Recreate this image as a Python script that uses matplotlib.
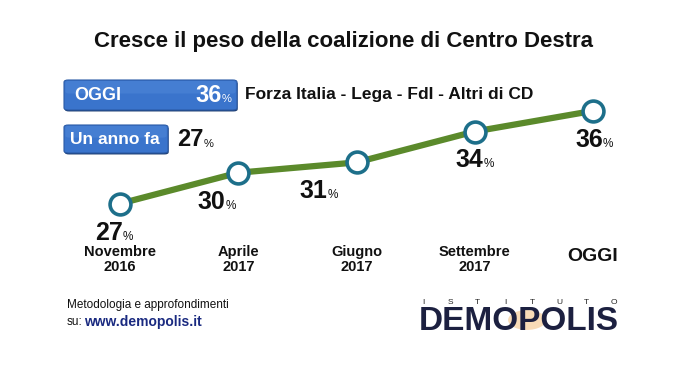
import matplotlib
matplotlib.use("Agg")
import matplotlib.pyplot as plt
from matplotlib.patches import FancyBboxPatch, Circle

# data
periods = ["Novembre\n2016", "Aprile\n2017", "Giugno\n2017", "Settembre\n2017", "OGGI"]
values = [27, 30, 31, 34, 36]
today_value = 36
year_ago_value = 27
title = "Cresce il peso della coalizione di Centro Destra"
subtitle = "Forza Italia - Lega - FdI - Altri di CD"

W, H = 700, 368
fig = plt.figure(figsize=(7, 3.68), dpi=100)
fig.patch.set_facecolor("white")


def fx(x):
    return x / W


def fy(y):
    return 1 - y / H


# main axes: index 0 -> 120px, 4 -> 593px ; value 27 -> 203px, 36 -> 110px
ax = fig.add_axes([fx(61), fy(234.5), fx(591), (234.5 - 80) / H])
ax.set_xlim(-0.5, 4.5)
ax.set_ylim(24, 39)
ax.axis("off")

xs = list(range(len(values)))
ax.plot(xs, values, color="#5b8a2b", lw=4.5, solid_capstyle="round", zorder=2)
ax.plot(xs, values, "o", ms=15, mfc="white", mec="#1d6f8a", mew=2.6, zorder=3)

# value labels (number + small percent)
nudge = [3, -13, -29, 9, 10]
for i, v in enumerate(values):
    ax.annotate(str(v), (i, v), xytext=(nudge[i], -29), textcoords="offset pixels",
                ha="right", va="center", fontsize=18, fontweight="bold",
                family="Liberation Sans", color="#111111")
    ax.annotate("%", (i, v), xytext=(nudge[i], -33), textcoords="offset pixels",
                ha="left", va="center", fontsize=8.5, family="Liberation Sans",
                color="#111111")

# category labels
for i, p in enumerate(periods):
    if p == "OGGI":
        ax.annotate(p, (i, 24), xytext=(0, -22), textcoords="offset pixels",
                    ha="center", va="center", fontsize=14, fontweight="bold",
                    family="Liberation Sans", color="#111111", annotation_clip=False)
    else:
        ax.annotate(p, (i, 24), xytext=(0, -25), textcoords="offset pixels",
                    ha="center", va="center", fontsize=10.5, fontweight="bold",
                    family="Liberation Sans", color="#111111", linespacing=1.1,
                    annotation_clip=False)

# title
fig.text(fx(344), fy(42), title, ha="center", va="center", fontsize=16,
         fontweight="bold", family="Liberation Sans", color="#111111")

# blue boxes
box_col = "#3a74cc"
for (x0, y0, x1, y1) in [(64, 80, 237, 110), (64, 125, 168, 153)]:
    fig.patches.append(FancyBboxPatch((fx(x0) + 0.001, fy(y1) - 0.004), fx(x1 - x0), (y1 - y0) / H,
                                      boxstyle="round,pad=0,rounding_size=0.006",
                                      transform=fig.transFigure, fc="#1e3d70", ec="none", zorder=1))
    fig.patches.append(FancyBboxPatch((fx(x0), fy(y1)), fx(x1 - x0), (y1 - y0) / H,
                                      boxstyle="round,pad=0,rounding_size=0.006",
                                      transform=fig.transFigure, fc=box_col, ec="#2a5aa6",
                                      lw=0.8, zorder=2))
    # lighter top half for a gradient look
    fig.patches.append(FancyBboxPatch((fx(x0) + 0.002, fy(y0 + (y1 - y0) * 0.45)), fx(x1 - x0) - 0.004,
                                      (y1 - y0) * 0.42 / H,
                                      boxstyle="round,pad=0,rounding_size=0.005",
                                      transform=fig.transFigure, fc="#5a92e0", ec="none",
                                      alpha=0.35, zorder=3))

fig.text(fx(74), fy(95), "OGGI", ha="left", va="center", fontsize=13,
         fontweight="bold", family="Liberation Sans", color="white", zorder=4)
fig.text(fx(222), fy(95), str(today_value), ha="right", va="center", fontsize=17,
         fontweight="bold", family="Liberation Sans", color="white", zorder=4)
fig.text(fx(222), fy(99), "%", ha="left", va="center", fontsize=8,
         family="Liberation Sans", color="white", zorder=4)
fig.text(fx(245), fy(95), subtitle, ha="left", va="center", fontsize=12.5,
         fontweight="bold", family="Liberation Sans", color="#111111")

fig.text(fx(70), fy(139), "Un anno fa", ha="left", va="center", fontsize=12.5,
         fontweight="bold", family="Liberation Sans", color="white", zorder=4)
fig.text(fx(204), fy(140), str(year_ago_value), ha="right", va="center", fontsize=17,
         fontweight="bold", family="Liberation Sans", color="#111111")
fig.text(fx(204), fy(144), "%", ha="left", va="center", fontsize=8,
         family="Liberation Sans", color="#111111")

# footer
fig.text(fx(67), fy(305), "Metodologia e approfondimenti", ha="left", va="center",
         fontsize=8.5, family="Liberation Sans", color="#111111")
fig.text(fx(67), fy(322), "su:", ha="left", va="center",
         fontsize=8.5, family="Liberation Sans", color="#111111")
fig.text(fx(84), fy(322), "www.demopolis.it", ha="left", va="center",
         fontsize=10, fontweight="bold", family="Liberation Sans", color="#1a2a80")

# logo
fig.patches.append(Circle((fx(527), fy(320)), 0.027, transform=fig.transFigure,
                          fc="#f0b060", ec="none", alpha=0.45, zorder=1))
for k, ch in enumerate("ISTITUTO"):
    fig.text(fx(423 + k * 27.3), fy(302), ch, ha="center", va="center",
             fontsize=6, family="Liberation Sans", color="#222222")
fig.text(fx(519), fy(321), "DEMOPOLIS", ha="center", va="center", fontsize=24,
         fontweight="bold", family="Liberation Sans", color="#1c2040", zorder=3)

fig.savefig("out.png", dpi=100, facecolor="white")
